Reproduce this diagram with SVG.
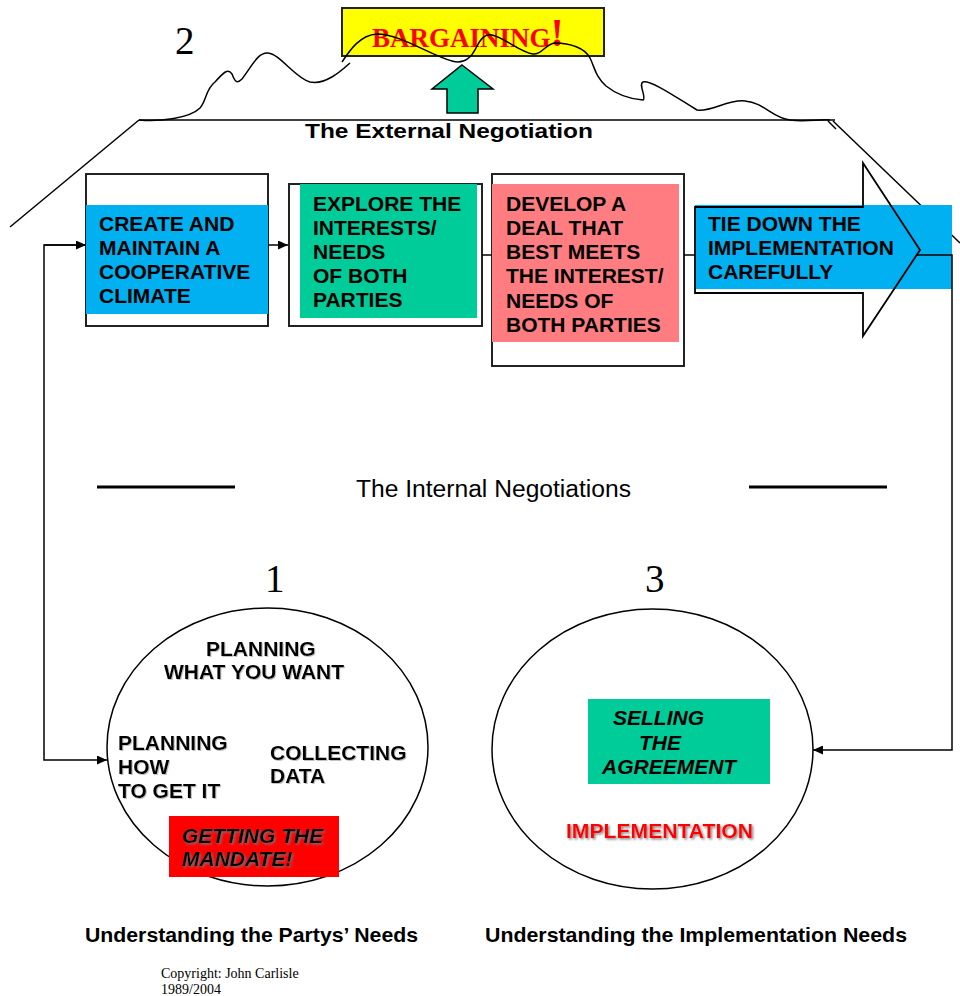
<svg xmlns="http://www.w3.org/2000/svg" width="960" height="996" viewBox="0 0 960 996">
<defs>
<style>
.t{font-family:"Liberation Sans",Arial,sans-serif;font-weight:bold;font-size:21px;fill:#000}
.ti{font-family:"Liberation Sans",Arial,sans-serif;font-weight:bold;font-style:italic;font-size:21px;fill:#000}
.num{font-family:"Liberation Serif","Times New Roman",serif;font-size:39px;fill:#000}
.box{fill:none;stroke:#222;stroke-width:2}
.ln{fill:none;stroke:#000;stroke-width:1.5}
.conn{fill:none;stroke:#000;stroke-width:1.5}
</style>
<marker id="ah" markerUnits="userSpaceOnUse" markerWidth="10" markerHeight="9" refX="10" refY="4.5" orient="auto">
<path d="M0,0 L10,4.5 L0,9 z" fill="#000"/>
</marker>
<filter id="sh" x="-10%" y="-20%" width="130%" height="160%">
<feDropShadow dx="1.5" dy="1.5" stdDeviation="0.8" flood-color="#777" flood-opacity="0.9"/>
</filter>
<filter id="sh2" x="-10%" y="-20%" width="130%" height="160%">
<feDropShadow dx="1" dy="1" stdDeviation="0.6" flood-color="#999" flood-opacity="0.6"/>
</filter>
</defs>
<rect width="960" height="996" fill="#fff"/>

<g id="house">
<line class="ln" x1="139" y1="120" x2="835" y2="120"/>
<line class="ln" x1="139" y1="120" x2="10" y2="227"/>
<line class="ln" x1="833" y1="121" x2="960" y2="243"/>
<line class="ln" x1="828" y1="121" x2="836" y2="129"/>
</g>

<g id="bargaining">
<rect x="342" y="8" width="262" height="48" fill="#FFFF00" stroke="#222" stroke-width="2"/>
<text x="372" y="47" font-family="'Liberation Serif','Times New Roman',serif" font-weight="bold" font-size="27" fill="#FF0000">BARGAINING<tspan font-size="40" dy="-1">!</tspan></text>
</g>

<g id="mountain">
<path class="ln" d="M139,120 C160,122 190,118 200,108 C207,100 205,90 215,82 C224,72 228,68 232,74 C235,82 237,84 242,79 C252,66 258,52 268,53 C280,54 295,78 310,82 C325,85 340,72 350,63"/>
<path class="ln" d="M342,62 C350,50 360,35 377,34 C400,34 430,55 452,61 C465,65 472,56 476,48 C481,38 485,34 492,35 C505,38 520,52 533,54 C542,55 545,44 555,43 C570,43 585,48 590,58 C595,68 595,76 606,86 C616,94 630,99 643,100 C647,98 638,84 643,82 C652,80 680,100 697,110 C712,112 728,99 745,101 C765,103 772,118 790,120 C805,122 820,119 830,120"/>
</g>

<g id="num2"><text class="num" x="175" y="54">2</text></g>

<g id="up-arrow">
<path d="M462,65 L493,89 L478,89 L478,113 L447,113 L447,89 L432,89 Z" fill="#00CC99" stroke="#000" stroke-width="1.5"/>
</g>

<g id="external-title">
<text class="t" x="305" y="138" font-size="22" textLength="288" lengthAdjust="spacingAndGlyphs">The External Negotiation</text>
</g>

<g id="box1">
<rect class="box" x="86" y="174" width="182" height="152"/>
<rect x="86" y="205" width="182" height="109" fill="#00B0F0"/>
<text class="t" x="99" y="231">CREATE AND</text>
<text class="t" x="99" y="255">MAINTAIN A</text>
<text class="t" x="99" y="279">COOPERATIVE</text>
<text class="t" x="99" y="303">CLIMATE</text>
</g>

<g id="box2">
<rect class="box" x="289" y="184" width="193" height="142"/>
<rect x="300" y="184" width="177" height="134" fill="#00CC99"/>
<text class="t" x="313" y="211">EXPLORE THE</text>
<text class="t" x="313" y="235">INTERESTS/</text>
<text class="t" x="313" y="259">NEEDS</text>
<text class="t" x="313" y="283">OF BOTH</text>
<text class="t" x="313" y="307">PARTIES</text>
</g>

<g id="box3">
<rect class="box" x="492" y="174" width="192" height="192"/>
<rect x="492" y="184" width="187" height="158" fill="#FF7C80"/>
<text class="t" x="506" y="211">DEVELOP A</text>
<text class="t" x="506" y="235">DEAL THAT</text>
<text class="t" x="506" y="259">BEST MEETS</text>
<text class="t" x="506" y="283">THE INTEREST/</text>
<text class="t" x="506" y="308">NEEDS OF</text>
<text class="t" x="506" y="332">BOTH PARTIES</text>
</g>

<g id="box4">
<rect x="695" y="205" width="257" height="84" fill="#00B0F0"/>
<path d="M695,207 L863,207 L863,163 L920,250 L863,336 L863,293 L695,293 Z" fill="none" stroke="#000" stroke-width="1.8"/>
<text class="t" x="708" y="231">TIE DOWN THE</text>
<text class="t" x="708" y="255">IMPLEMENTATION</text>
<text class="t" x="708" y="279">CAREFULLY</text>
</g>

<g id="internal">
<line x1="97" y1="487" x2="235" y2="487" stroke="#000" stroke-width="3"/>
<line x1="749" y1="487" x2="887" y2="487" stroke="#000" stroke-width="3"/>
<text x="356" y="497" font-family="'Liberation Sans',Arial,sans-serif" font-size="23" fill="#000" textLength="275" lengthAdjust="spacingAndGlyphs">The Internal Negotiations</text>
</g>

<g id="circle1">
<text class="num" x="265" y="592">1</text>
<ellipse cx="267.5" cy="747" rx="160.5" ry="139" fill="#fff" stroke="#000" stroke-width="1.5"/>
<g filter="url(#sh2)">
<text class="t" x="206" y="656">PLANNING</text>
<text class="t" x="164" y="679">WHAT YOU WANT</text>
<text class="t" x="118" y="750">PLANNING</text>
<text class="t" x="118" y="774">HOW</text>
<text class="t" x="118" y="798">TO GET IT</text>
<text class="t" x="270" y="760">COLLECTING</text>
<text class="t" x="270" y="783">DATA</text>
</g>
<rect x="169" y="816" width="170" height="61" fill="#FF0000"/>
<g filter="url(#sh)">
<text class="ti" x="182" y="843">GETTING THE</text>
<text class="ti" x="182" y="866">MANDATE!</text>
</g>
</g>

<g id="circle3">
<text class="num" x="645" y="592">3</text>
<ellipse cx="652.5" cy="749" rx="160.5" ry="140" fill="#fff" stroke="#000" stroke-width="1.5"/>
<rect x="588" y="699" width="182" height="85" fill="#00CC99"/>
<text class="ti" x="613" y="725">SELLING</text>
<text class="ti" x="639" y="750">THE</text>
<text class="ti" x="602" y="774">AGREEMENT</text>
<text class="t" x="566" y="838" fill="#FF0000" style="fill:#FF0000" filter="url(#sh)" textLength="187" lengthAdjust="spacingAndGlyphs">IMPLEMENTATION</text>
</g>

<g id="connectors">
<line class="conn" x1="268" y1="245" x2="288" y2="245" marker-end="url(#ah)"/>
<line class="conn" x1="482" y1="255" x2="492" y2="255"/>
<line class="conn" x1="684" y1="255" x2="695" y2="255"/>
<polyline class="conn" points="917,255 952,255 952,750 813,750" marker-end="url(#ah)"/>
<polyline class="conn" points="86,245 44,245 44,760 107,760" marker-end="url(#ah)"/>
<line class="conn" x1="44" y1="245" x2="86" y2="245" marker-end="url(#ah)"/>
</g>

<g id="labels">
<text class="t" x="85" y="942" textLength="333" lengthAdjust="spacingAndGlyphs">Understanding the Partys’ Needs</text>
<text class="t" x="485" y="942" textLength="422" lengthAdjust="spacingAndGlyphs">Understanding the Implementation Needs</text>
<text x="161" y="978" font-family="'Liberation Serif','Times New Roman',serif" font-size="14" fill="#000">Copyright: John Carlisle</text>
<text x="161" y="994" font-family="'Liberation Serif','Times New Roman',serif" font-size="14" fill="#000">1989/2004</text>
</g>
</svg>
